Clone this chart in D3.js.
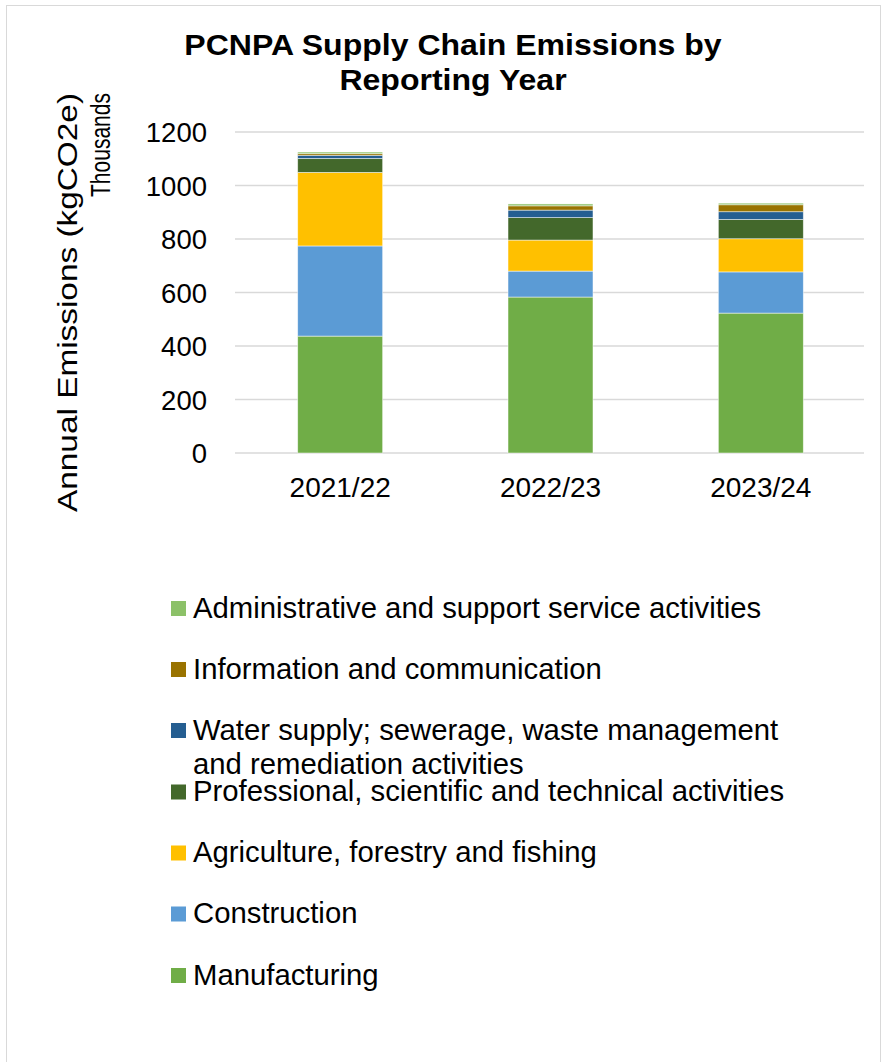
<!DOCTYPE html>
<html><head><meta charset="utf-8">
<script src="https://cdn.jsdelivr.net/npm/d3@7"></script>
<style>body{margin:0;background:#fff}svg{display:block;font-family:"Liberation Sans",Arial,sans-serif}</style>
</head><body><svg id="c" width="886" height="1062"></svg>
<script>
const categories = ["2021/22", "2022/23", "2023/24"];
const seriesNames = ["Manufacturing", "Construction", "Agriculture, forestry and fishing",
  "Professional, scientific and technical activities",
  "Water supply; sewerage, waste management and remediation activities",
  "Information and communication", "Administrative and support service activities"];
const manufacturing = [437, 583, 523];
const construction = [337, 97, 154];
const agriculture = [275, 116, 124];
const professional = [52, 84, 72];
const water = [12, 28, 29];
const information = [6, 16, 26];
const administrative = [6, 7, 6];
const yTicks = [0, 200, 400, 600, 800, 1000, 1200];
const colors = ["#70AD47", "#5B9BD5", "#FFC000", "#43682B", "#255E91", "#997300", "#8CC168"];

const seriesValues = [manufacturing, construction, agriculture, professional, water, information, administrative];
const rows = categories.map((c, i) => {
  const r = {cat: c};
  seriesNames.forEach((s, j) => r[s] = seriesValues[j][i]);
  return r;
});
const stacked = d3.stack().keys(seriesNames)(rows);

const svg = d3.select("#c");
svg.append("rect").attr("x", 6.5).attr("y", 5.5).attr("width", 874).attr("height", 1070)
  .attr("fill", "none").attr("stroke", "#D9D9D9");

const x = d3.scaleBand().domain(categories).range([235, 866]).paddingInner(0.596).paddingOuter(0.298);
const y = d3.scaleLinear().domain([0, 1200]).range([453, 132]);

// gridlines
svg.append("g").selectAll("line").data(yTicks).join("line")
  .attr("x1", 235).attr("x2", 864).attr("y1", d => y(d)).attr("y2", d => y(d))
  .attr("stroke", "#D9D9D9").attr("stroke-width", 1.5);

// bars
svg.append("g").selectAll("g").data(stacked).join("g")
  .attr("fill", (d, i) => colors[i])
  .selectAll("rect").data(d => d).join("rect")
  .attr("x", d => x(d.data.cat)).attr("width", x.bandwidth())
  .attr("y", d => y(d[1])).attr("height", d => y(d[0]) - y(d[1]))
  .attr("stroke", "#fff").attr("stroke-width", 0.8).attr("stroke-opacity", 0.6);

// y axis
const ya = d3.axisLeft(y).tickValues(yTicks).tickFormat(d3.format("d")).tickSize(0).tickPadding(0);
svg.append("g").attr("transform", "translate(207,0)").call(ya)
  .call(g => g.select(".domain").remove())
  .selectAll("text").attr("font-size", 27.5).attr("fill", "#000").attr("dy", "0.35em")
  .attr("font-family", "Liberation Sans, Arial, sans-serif");

// x axis
const xa = d3.axisBottom(x).tickSize(0).tickPadding(0);
svg.append("g").attr("transform", "translate(0,477)").call(xa)
  .call(g => g.select(".domain").remove())
  .selectAll("text").attr("font-size", 28).attr("fill", "#000").attr("dy", "0.72em")
  .attr("font-family", "Liberation Sans, Arial, sans-serif");

// title
const tg = svg.append("g").attr("transform", "translate(453,0) scale(1.068,1)");
const t = tg.append("text").attr("text-anchor", "middle").attr("font-weight", "bold")
  .attr("font-size", 30).attr("fill", "#000");
t.append("tspan").attr("x", 0).attr("y", 55).text("PCNPA Supply Chain Emissions by");
t.append("tspan").attr("x", 0).attr("y", 90).text("Reporting Year");

// y labels
svg.append("text").attr("transform", "translate(76.5,302.5) rotate(-90)").attr("text-anchor", "middle")
  .attr("font-size", 27).attr("fill", "#000")
  .attr("textLength", 419).attr("lengthAdjust", "spacingAndGlyphs")
  .text("Annual Emissions (kgCO2e)");
svg.append("text").attr("transform", "translate(110,145) rotate(-90)").attr("text-anchor", "middle")
  .attr("font-size", 28).attr("fill", "#000")
  .attr("textLength", 104).attr("lengthAdjust", "spacingAndGlyphs")
  .text("Thousands");

// legend
const legendItems = [
  {i: 6, lines: ["Administrative and support service activities"], y: 608.5},
  {i: 5, lines: ["Information and communication"], y: 669.5},
  {i: 4, lines: ["Water supply; sewerage, waste management", "and remediation activities"], y: 730.5},
  {i: 3, lines: ["Professional, scientific and technical activities"], y: 792},
  {i: 2, lines: ["Agriculture, forestry and fishing"], y: 853},
  {i: 1, lines: ["Construction"], y: 914},
  {i: 0, lines: ["Manufacturing"], y: 975.5}
];
const lg = svg.append("g").selectAll("g").data(legendItems).join("g");
lg.append("rect").attr("x", 171).attr("y", d => d.y - 7.5).attr("width", 15).attr("height", 15)
  .attr("fill", d => colors[d.i]);
lg.each(function(d) {
  const tx = d3.select(this).append("text").attr("font-size", 29.3).attr("fill", "#000");
  d.lines.forEach((l, k) => tx.append("tspan").attr("x", 193).attr("y", d.y + 9 + k * 34).text(l));
});
</script></body></html>
